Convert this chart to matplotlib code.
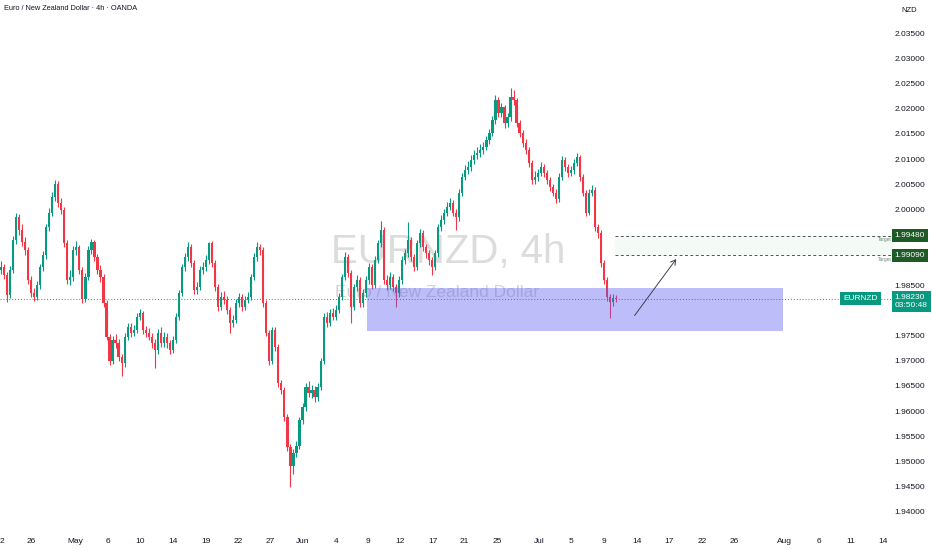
import numpy as np
import matplotlib
matplotlib.use("Agg")
import matplotlib.pyplot as plt
from matplotlib.patches import Rectangle
from matplotlib.transforms import blended_transform_factory

# EURNZD 4h candles (resampled by eye from the chart)
first_open = 1.9880
closes = [
    1.9886, 1.9870, 1.9830, 1.9880, 1.9940, 1.9985, 1.9960, 1.9935, 1.9920, 1.9860,
    1.9834, 1.9826, 1.9850, 1.9886, 1.9910, 1.9965, 1.9993, 2.0025, 2.0050, 2.0013,
    1.9999, 1.9933, 1.9860, 1.9866, 1.9920, 1.9925, 1.9880, 1.9822, 1.9866, 1.9920,
    1.9935, 1.9906, 1.9880, 1.9866, 1.9814, 1.9747, 1.9700, 1.9740, 1.9735, 1.9707,
    1.9695, 1.9747, 1.9767, 1.9755, 1.9760, 1.9787, 1.9794, 1.9760, 1.9755, 1.9747,
    1.9735, 1.9721, 1.9755, 1.9735, 1.9747, 1.9735, 1.9721, 1.9740, 1.9787, 1.9834,
    1.9886, 1.9906, 1.9925, 1.9894, 1.9840, 1.9846, 1.9880, 1.9886, 1.9900, 1.9933,
    1.9894, 1.9846, 1.9806, 1.9826, 1.9820, 1.9800, 1.9775, 1.9780, 1.9814, 1.9826,
    1.9806, 1.9820, 1.9826, 1.9866, 1.9906, 1.9925, 1.9920, 1.9814, 1.9755, 1.9700,
    1.9760, 1.9727, 1.9656, 1.9642, 1.9588, 1.9529, 1.9490, 1.9517, 1.9530, 1.9582,
    1.9608, 1.9648, 1.9636, 1.9642, 1.9628, 1.9648, 1.9700, 1.9787, 1.9775, 1.9794,
    1.9787, 1.9800, 1.9826, 1.9866, 1.9906, 1.9874, 1.9806, 1.9846, 1.9860, 1.9814,
    1.9834, 1.9860, 1.9886, 1.9850, 1.9900, 1.9933, 1.9960, 1.9860, 1.9850, 1.9866,
    1.9846, 1.9834, 1.9860, 1.9900, 1.9913, 1.9939, 1.9906, 1.9886, 1.9933, 1.9953,
    1.9925, 1.9913, 1.9900, 1.9886, 1.9913, 1.9965, 1.9979, 1.9993, 2.0005, 2.0013,
    1.9993, 1.9985, 2.0033, 2.0064, 2.0078, 2.0084, 2.0098, 2.0108, 2.0112, 2.0118,
    2.0124, 2.0138, 2.0152, 2.0178, 2.0217, 2.0191, 2.0203, 2.0171, 2.0183, 2.0223,
    2.0217, 2.0171, 2.0152, 2.0132, 2.0118, 2.0092, 2.0058, 2.0064, 2.0072, 2.0084,
    2.0072, 2.0058, 2.0044, 2.0033, 2.0020, 2.0064, 2.0098, 2.0084, 2.0072, 2.0078,
    2.0092, 2.0104, 2.0064, 2.0033, 1.9993, 2.0033, 2.0039, 1.9965, 1.9953, 1.9894,
    1.9860, 1.9826, 1.9816, 1.9824, 1.9823,
]
highs = [
    1.9898, 1.9892, 1.9875, 1.9888, 1.9948, 1.9993, 1.9990, 1.9972, 1.9945, 1.9926,
    1.9868, 1.9845, 1.9858, 1.9892, 1.9918, 1.9972, 2.0002, 2.0034, 2.0058, 2.0056,
    2.0022, 2.0004, 1.9940, 1.9880, 1.9928, 1.9938, 1.9930, 1.9886, 1.9874, 1.9928,
    1.9942, 1.9940, 1.9912, 1.9890, 1.9872, 1.9820, 1.9752, 1.9748, 1.9752, 1.9742,
    1.9714, 1.9754, 1.9775, 1.9774, 1.9770, 1.9794, 1.9802, 1.9798, 1.9768, 1.9764,
    1.9754, 1.9742, 1.9762, 1.9766, 1.9756, 1.9754, 1.9740, 1.9748, 1.9794, 1.9840,
    1.9892, 1.9914, 1.9935, 1.9932, 1.9900, 1.9856, 1.9888, 1.9896, 1.9910, 1.9936,
    1.9938, 1.9900, 1.9852, 1.9836, 1.9838, 1.9828, 1.9806, 1.9790, 1.9822, 1.9834,
    1.9832, 1.9828, 1.9836, 1.9872, 1.9914, 1.9935, 1.9932, 1.9926, 1.9820, 1.9760,
    1.9767, 1.9766, 1.9732, 1.9662, 1.9648, 1.9594, 1.9534, 1.9524, 1.9540, 1.9588,
    1.9616, 1.9656, 1.9660, 1.9652, 1.9650, 1.9656, 1.9706, 1.9794, 1.9796, 1.9802,
    1.9804, 1.9810, 1.9834, 1.9872, 1.9916, 1.9912, 1.9880, 1.9852, 1.9870, 1.9866,
    1.9842, 1.9868, 1.9894, 1.9892, 1.9908, 1.9940, 1.9978, 1.9966, 1.9870, 1.9876,
    1.9872, 1.9852, 1.9868, 1.9908, 1.9922, 1.9975, 1.9945, 1.9912, 1.9940, 1.9962,
    1.9960, 1.9932, 1.9920, 1.9906, 1.9920, 1.9972, 1.9988, 2.0000, 2.0014, 2.0022,
    2.0018, 2.0000, 2.0040, 2.0072, 2.0088, 2.0096, 2.0108, 2.0118, 2.0124, 2.0130,
    2.0134, 2.0146, 2.0160, 2.0186, 2.0227, 2.0224, 2.0212, 2.0208, 2.0192, 2.0241,
    2.0236, 2.0222, 2.0178, 2.0158, 2.0140, 2.0124, 2.0098, 2.0076, 2.0080, 2.0094,
    2.0090, 2.0078, 2.0064, 2.0050, 2.0040, 2.0072, 2.0106, 2.0104, 2.0090, 2.0086,
    2.0100, 2.0112, 2.0108, 2.0070, 2.0038, 2.0040, 2.0048, 2.0044, 1.9972, 1.9960,
    1.9900, 1.9866, 1.9832, 1.9832, 1.9830,
]
lows = [
    1.9872, 1.9862, 1.9816, 1.9824, 1.9874, 1.9932, 1.9950, 1.9928, 1.9910, 1.9852,
    1.9826, 1.9818, 1.9820, 1.9842, 1.9878, 1.9902, 1.9958, 1.9986, 2.0016, 2.0005,
    1.9990, 1.9925, 1.9852, 1.9850, 1.9858, 1.9910, 1.9872, 1.9814, 1.9816, 1.9860,
    1.9912, 1.9898, 1.9872, 1.9856, 1.9806, 1.9740, 1.9692, 1.9694, 1.9726, 1.9700,
    1.9670, 1.9688, 1.9740, 1.9746, 1.9748, 1.9754, 1.9780, 1.9752, 1.9746, 1.9740,
    1.9726, 1.9685, 1.9714, 1.9728, 1.9728, 1.9726, 1.9714, 1.9716, 1.9734, 1.9780,
    1.9828, 1.9878, 1.9898, 1.9886, 1.9832, 1.9832, 1.9840, 1.9872, 1.9878, 1.9892,
    1.9886, 1.9838, 1.9798, 1.9800, 1.9812, 1.9792, 1.9755, 1.9766, 1.9774, 1.9806,
    1.9798, 1.9800, 1.9814, 1.9820, 1.9860, 1.9898, 1.9910, 1.9806, 1.9748, 1.9692,
    1.9694, 1.9720, 1.9648, 1.9634, 1.9580, 1.9520, 1.9449, 1.9476, 1.9508, 1.9524,
    1.9574, 1.9600, 1.9628, 1.9626, 1.9618, 1.9620, 1.9642, 1.9694, 1.9766, 1.9768,
    1.9780, 1.9780, 1.9794, 1.9820, 1.9860, 1.9866, 1.9775, 1.9800, 1.9838, 1.9806,
    1.9806, 1.9826, 1.9852, 1.9842, 1.9844, 1.9894, 1.9926, 1.9852, 1.9840, 1.9842,
    1.9838, 1.9806, 1.9826, 1.9852, 1.9892, 1.9906, 1.9898, 1.9878, 1.9880, 1.9926,
    1.9918, 1.9904, 1.9890, 1.9870, 1.9880, 1.9906, 1.9958, 1.9972, 1.9986, 1.9998,
    1.9986, 1.9960, 1.9978, 2.0026, 2.0058, 2.0070, 2.0076, 2.0090, 2.0100, 2.0104,
    2.0110, 2.0118, 2.0130, 2.0146, 2.0170, 2.0184, 2.0184, 2.0162, 2.0164, 2.0176,
    2.0208, 2.0164, 2.0144, 2.0124, 2.0110, 2.0084, 2.0050, 2.0050, 2.0056, 2.0066,
    2.0064, 2.0050, 2.0036, 2.0026, 2.0012, 2.0014, 2.0058, 2.0076, 2.0064, 2.0066,
    2.0070, 2.0086, 2.0056, 2.0026, 1.9986, 1.9988, 2.0026, 1.9958, 1.9944, 1.9886,
    1.9852, 1.9818, 1.9784, 1.9808, 1.9816,
]

date_labels = ["2", "26", "May", "6", "10", "14", "19", "22", "27", "Jun", "4", "9", "12",
               "17", "21", "25", "Jul", "5", "9", "14", "17", "22", "26", "Aug", "6", "11", "14"]
date_bars = [0.3, 10, 24.6, 35.5, 46.2, 57.1, 68.1, 78.7, 89.4, 100, 111, 121.6, 132.2,
             143.2, 153.8, 164.5, 178.4, 189, 200, 211, 221.6, 232.6, 243.2, 259.8, 271.4, 282, 292.7]

last_price = 1.9823
countdown = "03:50:48"
targets = [1.9948, 1.9909]
target_start = 203.7
zone_left, zone_right = 121.4, 259.4
zone_bottom, zone_top = 1.9759, 1.9844
arrow_from = (209.6, 1.9785)
arrow_to = (224.5, 1.9906)

UP = "#089981"
DOWN = "#f23645"
TXT = "#131722"
plt.rcParams["font.family"] = ["Liberation Sans", "DejaVu Sans"]

W, H = 932, 550
fig = plt.figure(figsize=(W / 100, H / 100), dpi=100)
fig.patch.set_facecolor("white")
ax = fig.add_axes([0, 20 / H, 893 / W, 530 / H])
ax.set_facecolor("white")

opens = np.array([first_open] + closes[:-1])
c = np.array(closes)
x = np.arange(len(c))
col = np.where(c >= opens, UP, DOWN)
ax.vlines(x, lows, highs, colors=col, lw=0.8, zorder=3)
body_lo = np.minimum(opens, c)
body_h = np.maximum(np.abs(c - opens), 0.00012)
ax.bar(x, body_h, bottom=body_lo, width=0.72, color=col, lw=0, zorder=3)

px = 3.015
ax.set_xlim(-1 / px, -1 / px + 893 / px)
ax.set_ylim(2.035 - 497 * 0.0001984, 2.035 + 33 * 0.0001984)

for s in ax.spines.values():
    s.set_visible(False)

ax.set_xticks(date_bars)
ax.set_xticklabels(date_labels)
ax.yaxis.tick_right()
yt = np.round(np.arange(1.94, 2.0351, 0.005), 3)
ax.set_yticks(yt)
# the labels under the price tags are covered in the original
ax.set_yticklabels(["" if v in (1.98, 1.99, 1.995) else f"{v:.5f}" for v in yt])
ax.tick_params(axis="both", length=0, labelsize=6, labelcolor=TXT)
ax.tick_params(axis="x", pad=6)
ax.tick_params(axis="y", pad=1)

# watermark
ax.text(148.3, 1.99155, "EURNZD, 4h", fontsize=29, color="#dcdcdc",
        ha="center", va="center", zorder=0)
ax.text(144.6, 1.98361, "Euro / New Zealand Dollar", fontsize=12.5, color="#d4d4d4",
        ha="center", va="center", zorder=0)

# demand zone
ax.add_patch(Rectangle((zone_left, zone_bottom), zone_right - zone_left, zone_top - zone_bottom,
                       facecolor="#5b5ef0", alpha=0.4, lw=0, zorder=4))

# current price dotted line
ax.axhline(last_price, color=UP, lw=0.7, ls=(0, (1, 2)), zorder=2)

# targets
xr = ax.get_xlim()[1]
ax.fill_between([target_start, xr], targets[1], targets[0], color="#eef7ef", alpha=0.6, lw=0, zorder=1)
bt = blended_transform_factory(ax.transAxes, ax.transData)
for t in targets:
    ax.plot([target_start, xr], [t, t], color="#555555", lw=0.7, ls=(0, (3, 2.5)), zorder=4)
    ax.text(0.998, t - 0.0003, "Target", transform=bt, fontsize=3.5, color="#6b8a70",
            ha="right", va="top", zorder=5)
    ax.text(1.002, t, f"{t:.5f}", transform=bt, fontsize=6, color="white", ha="left", va="center",
            clip_on=False, zorder=10,
            bbox=dict(boxstyle="square,pad=0.35", fc="#1e5a25", ec="none"))

ax.annotate("", xy=arrow_to, xytext=arrow_from,
            arrowprops=dict(arrowstyle="->,head_length=0.35,head_width=0.2", color="#3a3f55", lw=0.7),
            zorder=6)

# last price labels
ax.text(1.002, last_price - 0.0006, f"{last_price:.5f}\n{countdown}", transform=bt, fontsize=6,
        color="white", ha="left", va="center", linespacing=1.2, clip_on=False, zorder=10,
        bbox=dict(boxstyle="square,pad=0.35", fc=UP, ec="none"))
ax.text(0.983, last_price, "EURNZD", transform=bt, fontsize=6, color="white",
        ha="right", va="center", clip_on=False, zorder=10,
        bbox=dict(boxstyle="square,pad=0.35", fc=UP, ec="none"))

fig.text(4 / W, 1 - 9 / H, "Euro / New Zealand Dollar \u00b7 4h \u00b7 OANDA", fontsize=5.3,
         color=TXT, ha="left", va="center")
fig.text(909 / W, 1 - 10 / H, "NZD", fontsize=5.5, color=TXT, ha="center", va="center")

fig.savefig("out.png", dpi=100)
